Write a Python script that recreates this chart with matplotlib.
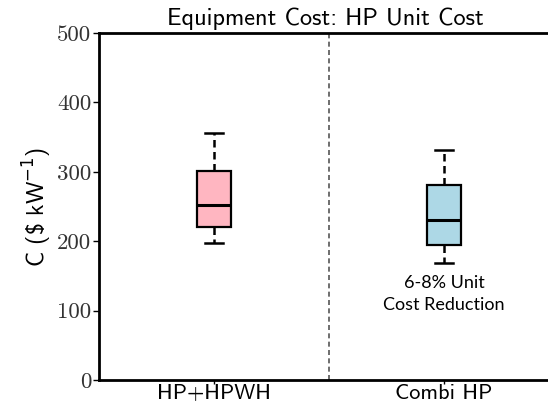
import matplotlib
matplotlib.use("Agg")
import matplotlib.pyplot as plt

# box statistics for each system ($/kW)
labels = ["HP+HPWH", "Combi HP"]
whis_low = [197, 169]
q1 = [220, 194]
median = [252, 230]
q3 = [301, 281]
whis_high = [356, 331]
box_colors = ["#FFB6C1", "#ADD8E6"]

stats = []
for i, name in enumerate(labels):
    stats.append({"label": name, "whislo": whis_low[i], "q1": q1[i], "med": median[i],
                  "q3": q3[i], "whishi": whis_high[i], "fliers": []})

fig = plt.figure(figsize=(5.48, 4.07), dpi=100)
ax = fig.add_axes([99 / 548, 27 / 407, 460 / 548, 347 / 407])

bp = ax.bxp(stats, positions=[1, 2], widths=0.15, patch_artist=True, showfliers=False,
            boxprops=dict(edgecolor="black", linewidth=1.6),
            medianprops=dict(color="black", linewidth=2.2),
            whiskerprops=dict(color="black", linewidth=1.8, linestyle=(0, (3, 1.8))),
            capprops=dict(color="black", linewidth=1.8))
for patch, c in zip(bp["boxes"], box_colors):
    patch.set_facecolor(c)

# divider between the two systems
ax.axvline(1.5, color="#555555", linewidth=1.2, linestyle=(0, (3, 2)))

ax.set_xlim(0.5, 2.5)
ax.set_ylim(0, 500)
ax.set_yticks([0, 100, 200, 300, 400, 500])
ax.set_yticklabels(["0", "100", "200", "300", "400", "500"], family="cmr10", fontsize=16.5,
                   color="#333333")
ax.set_xticks([1, 2])
ax.set_xticklabels(labels, family="cmss10", fontsize=16)
ax.tick_params(axis="y", direction="out", length=4, width=1, pad=1.5)
ax.tick_params(axis="x", direction="out", length=3, width=1, pad=0)

for side in ["left", "bottom", "top", "right"]:
    ax.spines[side].set_linewidth(2)

ax.set_ylabel(r"C (\$ kW$^{-1}$)", family="cmss10", fontsize=17, labelpad=2)
fig.text(325 / 548, 1 - 19 / 407, "Equipment Cost: HP Unit Cost", family="cmss10",
         fontsize=17.5, ha="center", va="center")

ax.text(2.0, 124, "6-8% Unit\nCost Reduction", family="Lato", fontsize=13,
        ha="center", va="center", linespacing=1.45)

fig.savefig("out.png", dpi=100)
